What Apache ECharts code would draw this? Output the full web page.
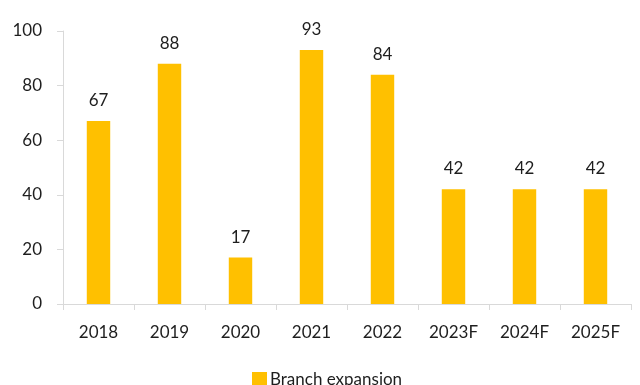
<!DOCTYPE html>
<html>
<head>
<meta charset="utf-8">
<script src="https://cdn.jsdelivr.net/npm/echarts@6/dist/echarts.min.js"></script>
<style>html,body{margin:0;padding:0;background:#fff;}#c{width:640px;height:385px;}</style>
</head>
<body>
<div id="c"></div>
<script>
const categories = ['2018','2019','2020','2021','2022','2023F','2024F','2025F'];
const branchExpansion = [67, 88, 17, 93, 84, 42, 42, 42];
const yTicks = [0, 20, 40, 60, 80, 100];
const seriesName = 'Branch expansion';

const font = 'Lato, "Noto Sans", sans-serif';
const fs = 17;
const txt = '#1e1e1e';
const chart = echarts.init(document.getElementById('c'), null, {renderer: 'canvas'});
chart.setOption({
  animation: false,
  backgroundColor: '#ffffff',
  textStyle: {fontFamily: font},
  grid: {left: 63, right: 9, top: 31, bottom: 81, containLabel: false},
  legend: {
    data: [seriesName],
    left: 247, top: 366,
    itemWidth: 15, itemHeight: 15, itemGap: 10,
    icon: 'rect',
    textStyle: {fontSize: fs, color: txt, fontFamily: font, padding: [0,0,0,-2]}
  },
  xAxis: {
    type: 'category',
    data: categories,
    axisLine: {lineStyle: {color: '#d9d9d9', width: 1}},
    axisTick: {show: true, length: 6, lineStyle: {color: '#d9d9d9'}},
    axisLabel: {fontSize: fs, color: txt, margin: 20, fontFamily: font},
    splitLine: {show: false}
  },
  yAxis: {
    type: 'value',
    min: yTicks[0], max: yTicks[yTicks.length - 1], interval: 20,
    axisLine: {show: true, lineStyle: {color: '#d9d9d9', width: 1}},
    axisTick: {show: true, length: 6, lineStyle: {color: '#d9d9d9'}},
    axisLabel: {fontSize: fs, color: txt, margin: 21, fontFamily: font},
    splitLine: {show: false}
  },
  series: [{
    name: seriesName,
    type: 'bar',
    data: branchExpansion,
    barWidth: '33%',
    itemStyle: {color: '#FFC000'},
    label: {show: true, position: 'top', distance: 12, fontSize: fs, color: txt, fontFamily: font}
  }]
});
</script>
</body>
</html>
